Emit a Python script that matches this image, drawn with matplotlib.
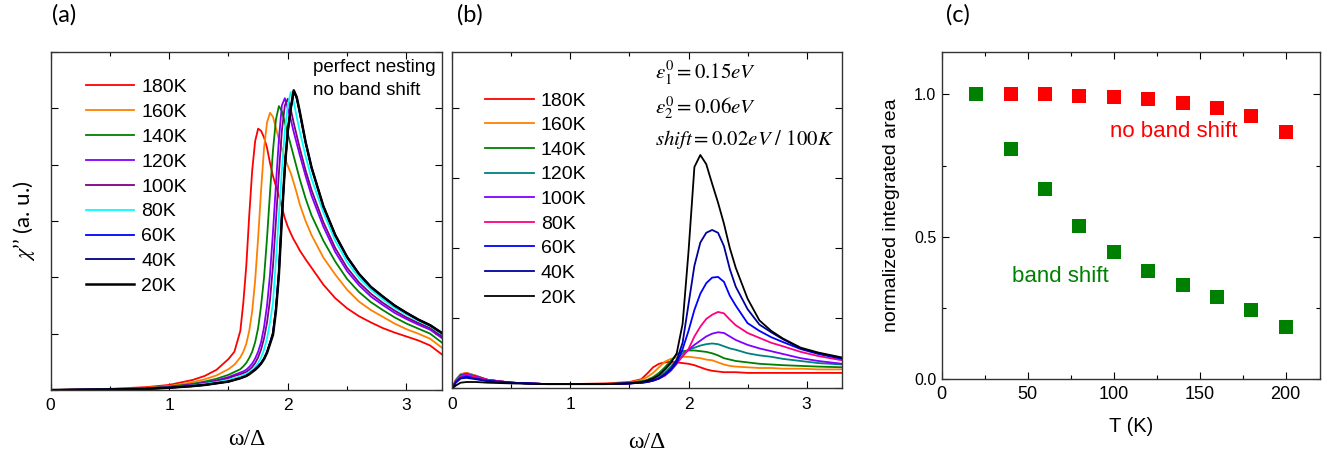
import numpy as np
import matplotlib
matplotlib.use('Agg')
import matplotlib.pyplot as plt
from matplotlib.ticker import MultipleLocator

plt.rcParams['font.family'] = ['Liberation Sans', 'DejaVu Sans']
plt.rcParams['mathtext.fontset'] = 'stix'

labels = ['180K', '160K', '140K', '120K', '100K', '80K', '60K', '40K', '20K']

# ---------------- (a) perfect nesting, no band shift ----------------
w_a = [0, 0.5, 0.8, 1.0, 1.2, 1.3, 1.4, 1.5, 1.55, 1.6, 1.625, 1.65, 1.675, 1.7,
       1.725, 1.75, 1.775, 1.8, 1.825, 1.85, 1.875, 1.9, 1.925, 1.95, 1.975, 2.0,
       2.025, 2.05, 2.075, 2.1, 2.15, 2.2, 2.3, 2.4, 2.5, 2.6, 2.7, 2.8, 2.9, 3.0,
       3.1, 3.2, 3.3]
chi_a_180 = [0, 0.02, 0.05, 0.09, 0.18, 0.25, 0.36, 0.55, 0.68, 1.05, 1.55, 2.2, 3.1, 3.9,
             4.42, 4.64, 4.60, 4.48, 4.30, 4.03, 3.80, 3.62, 3.45, 3.25, 3.05, 2.90,
             2.78, 2.67, 2.58, 2.48, 2.32, 2.17, 1.87, 1.63, 1.45, 1.31, 1.20, 1.10, 1.02, 0.95,
             0.88, 0.79, 0.63]
chi_a_160 = [0, 0.015, 0.04, 0.07, 0.14, 0.19, 0.26, 0.37, 0.45, 0.58, 0.68, 0.82, 1.05, 1.40,
             1.95, 2.70, 3.55, 4.30, 4.75, 4.92, 4.85, 4.65, 4.45, 4.28, 4.12, 3.98,
             3.85, 3.68, 3.50, 3.30, 3.00, 2.75, 2.35, 2.05, 1.78, 1.57, 1.42, 1.30, 1.18, 1.08,
             1.00, 0.91, 0.75]
chi_a_140 = [0, 0.01, 0.03, 0.06, 0.11, 0.15, 0.20, 0.27, 0.32, 0.37, 0.42, 0.48, 0.57, 0.68,
             0.85, 1.10, 1.50, 2.00, 2.70, 3.50, 4.25, 4.80, 5.04, 4.95, 4.75, 4.55,
             4.35, 4.15, 3.95, 3.75, 3.40, 3.10, 2.65, 2.28, 1.97, 1.74, 1.56, 1.42, 1.29, 1.18,
             1.09, 1.00, 0.84]
chi_a_120 = [0, 0.01, 0.03, 0.05, 0.10, 0.13, 0.17, 0.23, 0.27, 0.31, 0.33, 0.36, 0.41, 0.47,
             0.56, 0.68, 0.85, 1.12, 1.50, 2.05, 2.80, 3.65, 4.45, 5.05, 5.18, 5.00,
             4.80, 4.58, 4.38, 4.18, 3.80, 3.45, 2.90, 2.45, 2.11, 1.86, 1.66, 1.51, 1.37, 1.26,
             1.16, 1.07, 0.92]
chi_a_100 = [0, 0.01, 0.03, 0.05, 0.09, 0.12, 0.16, 0.21, 0.25, 0.28, 0.30, 0.32, 0.36, 0.41,
             0.48, 0.58, 0.72, 0.92, 1.20, 1.60, 2.20, 3.00, 3.85, 4.60, 5.05, 5.17,
             4.98, 4.74, 4.52, 4.30, 3.90, 3.55, 2.98, 2.52, 2.17, 1.91, 1.71, 1.55, 1.41, 1.29,
             1.19, 1.10, 0.95]
chi_a_80 = [0, 0.01, 0.025, 0.045, 0.08, 0.11, 0.14, 0.18, 0.21, 0.24, 0.26, 0.29, 0.32, 0.36,
            0.41, 0.48, 0.58, 0.72, 0.92, 1.20, 1.55, 2.30, 3.10, 3.90, 4.60, 5.05,
            5.29, 5.12, 4.85, 4.60, 4.15, 3.75, 3.15, 2.65, 2.27, 1.99, 1.78, 1.61, 1.46, 1.34,
            1.23, 1.13, 0.99]
chi_a_60 = [0, 0.01, 0.02, 0.04, 0.07, 0.09, 0.12, 0.15, 0.18, 0.21, 0.23, 0.25, 0.29, 0.33,
            0.37, 0.42, 0.48, 0.56, 0.68, 0.84, 1.02, 1.45, 2.10, 3.10, 3.95, 4.60,
            5.00, 5.30, 5.18, 4.93, 4.40, 3.95, 3.26, 2.75, 2.36, 2.06, 1.83, 1.66, 1.50, 1.37,
            1.25, 1.15, 1.01]
chi_a_40 = [0, 0.01, 0.02, 0.04, 0.07, 0.09, 0.12, 0.15, 0.18, 0.21, 0.23, 0.25, 0.29, 0.33,
            0.37, 0.42, 0.48, 0.56, 0.67, 0.83, 1.00, 1.42, 2.07, 3.08, 3.95, 4.60,
            5.00, 5.31, 5.19, 4.94, 4.40, 3.95, 3.26, 2.75, 2.36, 2.06, 1.83, 1.66, 1.50, 1.37,
            1.25, 1.15, 1.01]
chi_a_20 = [0, 0.01, 0.02, 0.04, 0.07, 0.09, 0.12, 0.15, 0.18, 0.21, 0.23, 0.25, 0.28, 0.32,
            0.36, 0.41, 0.47, 0.55, 0.66, 0.82, 0.98, 1.40, 2.05, 3.05, 3.95, 4.60,
            5.00, 5.32, 5.20, 4.95, 4.40, 3.95, 3.26, 2.75, 2.36, 2.06, 1.83, 1.66, 1.50, 1.37,
            1.25, 1.15, 1.01]
colors_a = ['#ff0000', '#ff8000', '#008000', '#8000ff', '#800080', '#00ffff',
            '#0000ff', '#000080', '#000000']

# ---------------- (b) with band shift ----------------
w_b = [0, 0.03, 0.07, 0.12, 0.2, 0.3, 0.5, 0.8, 1.0, 1.3, 1.5, 1.6, 1.65, 1.7, 1.75,
       1.8, 1.85, 1.9, 1.95, 2.0, 2.05, 2.1, 2.15, 2.2, 2.25, 2.3, 2.35, 2.4, 2.5,
       2.6, 2.7, 2.8, 2.95, 3.1, 3.3]
chi_b_180 = [0, 0.12, 0.20, 0.22, 0.18, 0.12, 0.08, 0.06, 0.06, 0.07, 0.09, 0.13, 0.21, 0.30, 0.35,
             0.37, 0.38, 0.37, 0.36, 0.35, 0.33, 0.30, 0.27, 0.25, 0.24, 0.23, 0.23, 0.23, 0.22,
             0.22, 0.22, 0.22, 0.22, 0.22, 0.22]
chi_b_160 = [0, 0.12, 0.20, 0.22, 0.18, 0.12, 0.08, 0.06, 0.06, 0.06, 0.08, 0.12, 0.16, 0.22, 0.30,
             0.38, 0.42, 0.44, 0.45, 0.45, 0.44, 0.43, 0.41, 0.40, 0.37, 0.34, 0.32, 0.31, 0.30,
             0.29, 0.29, 0.28, 0.28, 0.27, 0.27]
chi_b_140 = [0, 0.11, 0.19, 0.21, 0.17, 0.12, 0.08, 0.06, 0.06, 0.06, 0.08, 0.10, 0.12, 0.16, 0.22,
             0.30, 0.39, 0.48, 0.53, 0.54, 0.54, 0.53, 0.52, 0.50, 0.47, 0.43, 0.41, 0.39, 0.37,
             0.35, 0.34, 0.33, 0.32, 0.31, 0.30]
chi_b_120 = [0, 0.11, 0.18, 0.20, 0.17, 0.12, 0.08, 0.06, 0.06, 0.06, 0.07, 0.09, 0.11, 0.13, 0.17,
             0.23, 0.31, 0.41, 0.50, 0.55, 0.58, 0.61, 0.63, 0.64, 0.63, 0.60, 0.57, 0.55, 0.50,
             0.47, 0.45, 0.42, 0.39, 0.36, 0.34]
chi_b_100 = [0, 0.10, 0.18, 0.20, 0.17, 0.12, 0.08, 0.06, 0.06, 0.06, 0.07, 0.08, 0.10, 0.12, 0.15,
             0.20, 0.27, 0.36, 0.46, 0.55, 0.62, 0.68, 0.74, 0.78, 0.80, 0.79, 0.74, 0.69, 0.62,
             0.57, 0.53, 0.49, 0.43, 0.39, 0.35]
chi_b_80 = [0, 0.10, 0.17, 0.19, 0.16, 0.12, 0.08, 0.06, 0.06, 0.06, 0.07, 0.08, 0.09, 0.11, 0.14,
            0.18, 0.25, 0.35, 0.46, 0.56, 0.74, 0.88, 0.99, 1.05, 1.09, 1.07, 0.98, 0.90, 0.79,
            0.72, 0.65, 0.60, 0.52, 0.46, 0.40]
chi_b_60 = [0, 0.09, 0.15, 0.17, 0.14, 0.11, 0.08, 0.06, 0.06, 0.06, 0.07, 0.08, 0.09, 0.11, 0.14,
            0.19, 0.26, 0.36, 0.56, 0.82, 1.12, 1.35, 1.50, 1.58, 1.59, 1.52, 1.32, 1.18, 0.93,
            0.82, 0.73, 0.66, 0.56, 0.49, 0.42]
chi_b_40 = [0, 0.08, 0.14, 0.15, 0.13, 0.10, 0.08, 0.06, 0.06, 0.06, 0.07, 0.08, 0.09, 0.11, 0.14,
            0.20, 0.28, 0.40, 0.65, 1.20, 1.75, 2.08, 2.22, 2.26, 2.22, 2.03, 1.70, 1.45, 1.13,
            0.91, 0.80, 0.70, 0.57, 0.50, 0.43]
chi_b_20 = [0, 0.04, 0.08, 0.09, 0.09, 0.08, 0.07, 0.06, 0.06, 0.06, 0.07, 0.09, 0.11, 0.14, 0.19,
            0.27, 0.36, 0.50, 0.92, 1.95, 3.16, 3.33, 3.20, 2.92, 2.65, 2.35, 2.00, 1.72, 1.28,
            0.97, 0.82, 0.71, 0.58, 0.51, 0.44]
colors_b = ['#ff0000', '#ff8000', '#008000', '#008080', '#8000ff', '#ff0080',
            '#0000ff', '#00009c', '#000000']

# ---------------- (c) integrated area vs temperature ----------------
T = [20, 40, 60, 80, 100, 120, 140, 160, 180, 200]
area_no_shift = [1.0, 1.0, 1.0, 0.995, 0.992, 0.985, 0.970, 0.953, 0.923, 0.868]
area_shift = [1.0, 0.809, 0.666, 0.537, 0.447, 0.380, 0.330, 0.287, 0.242, 0.184]


def style_axes(ax):
    ax.tick_params(which='both', direction='in', top=True, right=True, width=0.8)
    ax.tick_params(which='major', length=5)
    ax.tick_params(which='minor', length=3)
    for s in ax.spines.values():
        s.set_linewidth(1.0)
        s.set_color('#333333')


fig = plt.figure(figsize=(13.33, 4.59), dpi=100)

# (a)
ax1 = fig.add_axes([0.0379, 0.1503, 0.2937, 0.7364])
curves_a = [chi_a_180, chi_a_160, chi_a_140, chi_a_120, chi_a_100, chi_a_80,
            chi_a_60, chi_a_40, chi_a_20]
for lab, col, y in zip(labels, colors_a, curves_a):
    ax1.plot(w_a, y, color=col, lw=1.8 if lab == '20K' else 1.3, label=lab)
ax1.set_xlim(0, 3.3)
ax1.set_ylim(0, 6.0)
ax1.xaxis.set_major_locator(MultipleLocator(1))
ax1.xaxis.set_minor_locator(MultipleLocator(0.5))
ax1.yaxis.set_major_locator(MultipleLocator(1))
ax1.set_yticklabels([])
style_axes(ax1)
ax1.tick_params(axis='x', labelsize=12.5, pad=6)
ax1.set_xlabel('ω/Δ', family='Liberation Serif', fontsize=17, labelpad=11)
ax1.set_ylabel('$\\chi$’’ (a. u.)', family=['Lato', 'DejaVu Sans'], fontsize=16, labelpad=6)
ax1.legend(loc='upper left', bbox_to_anchor=(0.09, 0.922), frameon=False,
           fontsize=14, handlelength=2.5, handletextpad=0.35, labelspacing=0.375,
           borderpad=0, borderaxespad=0)
ax1.text(0.67, 0.955, 'perfect nesting', transform=ax1.transAxes, fontsize=13.5, va='center')
ax1.text(0.67, 0.887, 'no band shift', transform=ax1.transAxes, fontsize=13.5, va='center')

# (b)
ax2 = fig.add_axes([0.3393, 0.154, 0.2924, 0.7327])
curves_b = [chi_b_180, chi_b_160, chi_b_140, chi_b_120, chi_b_100, chi_b_80,
            chi_b_60, chi_b_40, chi_b_20]
for lab, col, y in zip(labels, colors_b, curves_b):
    ax2.plot(w_b, y, color=col, lw=1.3, label=lab)
ax2.set_xlim(0, 3.3)
ax2.set_ylim(0, 4.8)
ax2.xaxis.set_major_locator(MultipleLocator(1))
ax2.xaxis.set_minor_locator(MultipleLocator(0.5))
ax2.yaxis.set_major_locator(MultipleLocator(1))
ax2.set_yticklabels([])
style_axes(ax2)
ax2.tick_params(axis='x', labelsize=12.5, pad=6)
ax2.set_xlabel('ω/Δ', family='Liberation Serif', fontsize=17, labelpad=15)
ax2.legend(loc='upper left', bbox_to_anchor=(0.085, 0.881), frameon=False,
           fontsize=14, handlelength=2.5, handletextpad=0.35, labelspacing=0.36,
           borderpad=0, borderaxespad=0)
ax2.text(0.52, 0.938, '$\\varepsilon_1^0 = 0.15eV$', transform=ax2.transAxes, fontsize=15, va='center')
ax2.text(0.52, 0.834, '$\\varepsilon_2^0 = 0.06eV$', transform=ax2.transAxes, fontsize=15, va='center')
ax2.text(0.52, 0.741, '$shift = 0.02eV\\ /\\ 100K$', transform=ax2.transAxes, fontsize=15, va='center')

# (c)
ax3 = fig.add_axes([0.7065, 0.1743, 0.2838, 0.7131])
ax3.plot(T, area_no_shift, 's', color='#ff0000', markersize=9.5, markeredgewidth=0)
ax3.plot(T, area_shift, 's', color='#008000', markersize=9.5, markeredgewidth=0)
ax3.set_xlim(0, 220)
ax3.set_ylim(0, 1.15)
ax3.xaxis.set_major_locator(MultipleLocator(50))
ax3.xaxis.set_minor_locator(MultipleLocator(25))
ax3.yaxis.set_major_locator(MultipleLocator(0.5))
ax3.yaxis.set_minor_locator(MultipleLocator(0.25))
ax3.yaxis.set_major_formatter(plt.FormatStrFormatter('%.1f'))
style_axes(ax3)
ax3.tick_params(axis='x', labelsize=13, pad=5)
ax3.tick_params(axis='y', labelsize=11.5, pad=4)
ax3.set_xlabel('T (K)', fontsize=14.5, labelpad=10)
ax3.set_ylabel('normalized integrated area', fontsize=14, labelpad=10)
ax3.text(98, 0.868, 'no band shift', color='#ff0000', fontsize=16, va='center')
ax3.text(41, 0.361, 'band shift', color='#008000', fontsize=16, va='center')

# panel tags
for x0, tag in [(0.039, '(a)'), (0.343, '(b)'), (0.7097, '(c)')]:
    fig.text(x0, 0.967, tag, fontsize=17, family=['Lato', 'DejaVu Sans'], va='center')

fig.savefig('out.png', dpi=100)
plt.close(fig)
